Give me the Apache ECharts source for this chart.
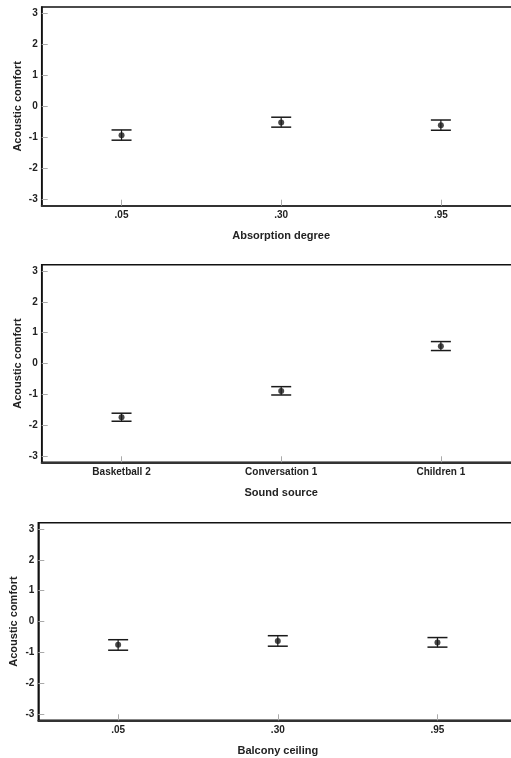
<!DOCTYPE html>
<html>
<head>
<meta charset="utf-8">
<script src="https://cdn.jsdelivr.net/npm/echarts@6/dist/echarts.min.js"></script>
<style>
html,body{margin:0;padding:0;background:#fff;overflow:hidden;}
#chart{width:511px;height:758px;}
</style>
</head>
<body>
<div id="chart"></div>
<script>
const yTicks = [-3, -2, -1, 0, 1, 2, 3];
const yName = 'Acoustic comfort';

const absorptionName = 'Absorption degree';
const absorptionCats = ['.05', '.30', '.95'];
const absorptionMean = [-0.93, -0.52, -0.61];
const absorptionLow = [-1.09, -0.67, -0.77];
const absorptionHigh = [-0.76, -0.35, -0.44];

const sourceName = 'Sound source';
const sourceCats = ['Basketball 2', 'Conversation 1', 'Children 1'];
const sourceMean = [-1.74, -0.89, 0.56];
const sourceLow = [-1.87, -1.02, 0.42];
const sourceHigh = [-1.61, -0.75, 0.71];

const balconyName = 'Balcony ceiling';
const balconyCats = ['.05', '.30', '.95'];
const balconyMean = [-0.75, -0.63, -0.68];
const balconyLow = [-0.93, -0.80, -0.83];
const balconyHigh = [-0.59, -0.46, -0.52];

const FONT = "'Liberation Sans', Arial, sans-serif";
const panels = [
  {name: absorptionName, cats: absorptionCats, mean: absorptionMean, low: absorptionLow, high: absorptionHigh, left: 41.7, top: 7, height: 198.7},
  {name: sourceName, cats: sourceCats, mean: sourceMean, low: sourceLow, high: sourceHigh, left: 41.7, top: 264.7, height: 197.6},
  {name: balconyName, cats: balconyCats, mean: balconyMean, low: balconyLow, high: balconyHigh, left: 38.3, top: 522.7, height: 197.6}
];

const grid = [], xAxis = [], yAxis = [], series = [];
panels.forEach((p, i) => {
  grid.push({left: p.left, top: p.top, width: 479, height: p.height, show: true, borderColor: '#111', borderWidth: 1.5, backgroundColor: '#fff', containLabel: false, outerBoundsMode: 'none'});
  xAxis.push({
    type: 'category', gridIndex: i, data: p.cats, boundaryGap: true,
    name: p.name, nameLocation: 'middle', nameGap: 25,
    nameTextStyle: {fontFamily: FONT, fontWeight: 'bold', fontSize: 11, color: '#222'},
    axisLine: {show: true, onZero: false, lineStyle: {color: '#333', width: 2}},
    axisTick: {show: true, inside: true, alignWithLabel: true, length: 6, lineStyle: {color: '#aaa', width: 1}},
    axisLabel: {fontFamily: FONT, fontWeight: 'bold', fontSize: 10, color: '#222', margin: 5},
    splitLine: {show: false}
  });
  yAxis.push({
    type: 'value', gridIndex: i, min: -3.2, max: 3.2,
    name: yName, nameLocation: 'middle', nameGap: 18.5, nameRotate: 90, nameMoveOverlap: false,
    nameTextStyle: {fontFamily: FONT, fontWeight: 'bold', fontSize: 11, color: '#222'},
    axisLine: {show: true, onZero: false, lineStyle: {color: '#111', width: 1.5}},
    axisTick: {show: true, inside: true, length: 6, lineStyle: {color: '#aaa', width: 1}, customValues: yTicks},
    axisLabel: {fontFamily: FONT, fontWeight: 'bold', fontSize: 10, color: '#222', margin: 4, customValues: yTicks},
    splitLine: {show: false}
  });
  series.push({
    type: 'custom', xAxisIndex: i, yAxisIndex: i,
    data: p.cats.map((c, k) => [k, p.low[k], p.high[k]]),
    renderItem: function (params, api) {
      const k = api.value(0);
      const lo = api.coord([k, api.value(1)]);
      const hi = api.coord([k, api.value(2)]);
      const hw = 10;
      const st = {stroke: '#1a1a1a', lineWidth: 1.5};
      return {type: 'group', children: [
        {type: 'line', shape: {x1: lo[0], y1: lo[1], x2: hi[0], y2: hi[1]}, style: {stroke: '#1a1a1a', lineWidth: 1.2}},
        {type: 'line', shape: {x1: hi[0] - hw, y1: hi[1], x2: hi[0] + hw, y2: hi[1]}, style: st},
        {type: 'line', shape: {x1: lo[0] - hw, y1: lo[1], x2: lo[0] + hw, y2: lo[1]}, style: st}
      ]};
    },
    silent: true, animation: false
  });
  series.push({
    type: 'scatter', xAxisIndex: i, yAxisIndex: i,
    data: p.mean, symbol: 'circle', symbolSize: 6,
    itemStyle: {color: '#1a1a1a'}, silent: true, animation: false
  });
});

const chart = echarts.init(document.getElementById('chart'), null, {renderer: 'canvas'});
chart.setOption({animation: false, backgroundColor: '#fff', grid, xAxis, yAxis, series});
</script>
</body>
</html>
